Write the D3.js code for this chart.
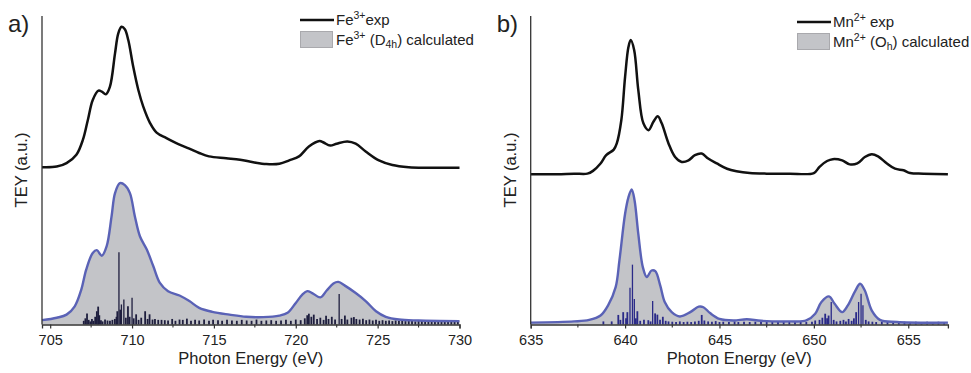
<!DOCTYPE html>
<html>
<head>
<meta charset="utf-8">
<script src="https://cdn.jsdelivr.net/npm/d3@7"></script>
<style>
  body { margin: 0; background: #fff; }
  svg { font-family: "Liberation Sans", Arial, sans-serif; }
</style>
</head>
<body>
<div id="chart"></div>
<script>
// ---- panel a : Fe L-edge ----
const feExpE = [704.5,705.4,706.0,706.6,707.0,707.3,707.6,707.95,708.15,708.4,708.65,708.96,709.16,709.36,709.56,709.77,710.07,710.38,710.68,711.1,711.5,712.1,712.7,713.5,714.1,714.7,715.75,716.6,717.4,718.2,719.0,719.6,720.2,720.8,721.45,721.7,722.1,722.5,723.15,723.66,724.27,725.08,725.9,726.9,727.9,730.0];
const feExpI = [51.0,51.2,52.3,55.0,59.9,66.3,72.8,75.8,75.5,74.6,77.1,87.9,94.4,96.5,95.7,92.2,83.6,76.1,70.7,65.3,62.2,60.4,58.8,57.0,55.6,54.5,53.9,53.4,52.6,52.0,52.1,53.2,54.5,57.7,59.5,59.0,58.0,58.6,59.3,58.6,56.1,53.2,51.7,51.0,50.8,50.8];
const feCalcE = [704.5,705.4,706.0,706.5,706.9,707.2,707.6,707.85,708.15,708.45,708.75,708.96,709.26,709.56,709.87,710.17,710.48,710.9,711.3,711.7,712.2,712.9,713.5,714.1,714.9,715.95,716.97,718.0,719.0,719.5,720.0,720.4,720.7,721.0,721.5,721.9,722.3,722.6,723.0,723.66,724.27,724.9,725.5,726.3,727.5,730.0];
const feCalcI = [1.4,2.2,3.2,5.9,11.3,17.8,23.2,24.1,22.3,25.4,35.1,42.6,45.8,45.2,42.6,35.1,28.6,24.3,18.9,13.5,10.8,9.4,7.6,5.4,4.1,3.2,2.5,2.4,2.9,3.8,7.0,9.7,10.8,10.2,8.8,11.1,13.3,13.8,12.6,10.2,7.6,4.3,2.5,1.6,1.3,1.1];
const feStickE = [707.05,707.15,707.25,707.35,707.45,707.55,707.65,707.75,707.85,707.93,708.0,708.1,708.2,708.35,708.5,708.65,708.8,708.95,709.05,709.1,709.2,709.28,709.35,709.5,709.62,709.75,709.85,710.0,710.1,710.25,710.4,710.56,710.8,710.95,711.07,711.25,711.4,711.6,711.8,712.0,712.2,712.45,712.65,712.9,713.1,713.35,713.6,713.85,714.1,714.4,714.7,714.95,715.25,715.5,715.8,716.1,716.4,716.7,717.0,717.3,717.6,717.9,718.2,718.5,718.8,719.1,719.4,719.7,720.0,720.3,720.55,720.7,720.8,720.95,721.1,721.3,721.5,721.7,721.85,722.0,722.2,722.4,722.65,722.8,723.0,723.15,723.4,723.55,723.7,723.9,724.1,724.3,724.5,724.7,724.9,725.1,725.3,725.5,725.7,725.9,726.1,726.3,726.5,726.7,726.9,727.1,727.3,727.5,727.7,727.9,728.1,728.3,728.5,728.7,728.9,729.1,729.3,729.5,729.7,729.9];
const feStickI = [1.2,2.0,3.6,1.5,1.0,1.8,1.2,2.5,4.3,5.8,3.0,1.4,1.0,1.6,1.3,1.2,1.5,1.8,2.5,4.3,23.4,4.8,6.5,8.1,2.2,5.9,2.5,8.7,2.0,3.3,1.5,2.2,4.3,1.8,3.3,1.6,1.8,1.5,1.5,1.4,1.3,1.8,1.2,1.6,1.5,1.9,1.2,1.5,1.3,1.6,1.2,1.5,1.4,1.2,1.5,1.3,1.2,1.5,1.3,1.2,1.6,1.2,1.3,1.4,1.2,1.3,1.5,1.2,1.6,1.4,2.0,3.0,3.5,2.5,3.2,1.8,2.2,1.5,2.8,1.8,2.5,1.6,9.9,1.8,2.9,1.6,2.2,2.4,1.8,1.6,1.9,1.4,1.6,1.3,1.5,1.2,1.4,1.2,1.3,1.1,1.3,1.2,1.4,1.1,1.2,1.3,1.0,1.4,1.2,1.3,1.1,1.2,1.3,1.1,1.2,1.3,1.1,1.2,1.0,1.1];
const feTicks = [705,710,715,720,725,730];
const feMinor = [707.5,712.5,717.5,722.5,727.5];

// ---- panel b : Mn L-edge ----
const mnExpE = [635.0,636.4,637.3,638.0,638.3,638.7,639.0,639.4,639.56,639.8,640.0,640.18,640.3,640.48,640.7,640.97,641.24,641.5,641.73,641.94,642.3,642.65,643.0,643.36,643.7,644.06,644.4,644.86,645.4,645.9,646.6,647.5,648.7,650.0,650.3,650.7,651.0,651.5,651.9,652.3,652.7,653.07,653.4,653.87,654.3,654.75,655.1,655.8,657.1];
const mnExpI = [48.7,48.7,48.9,48.9,49.8,52.2,54.9,56.7,58.7,66.2,80.3,90.0,92.2,89.0,76.0,65.2,63.0,65.7,67.5,65.2,58.7,54.3,52.7,53.2,54.9,55.4,53.8,52.2,50.5,49.7,49.1,48.9,48.9,49.1,51.1,53.0,53.6,53.2,51.9,52.2,54.3,55.2,54.5,52.2,50.5,50.0,49.1,48.9,48.7];
const mnCalcE = [635.0,637.3,638.1,638.7,639.1,639.5,639.7,640.0,640.18,640.35,640.5,640.7,640.94,641.15,641.4,641.6,641.86,642.1,642.47,642.9,643.45,643.9,644.15,644.5,645.0,645.74,646.45,647.2,648.7,649.6,650.07,650.4,650.8,651.1,651.5,651.8,652.2,652.45,652.7,653.07,653.5,654.4,657.1];
const mnCalcI = [0.6,1.0,1.5,2.9,6.2,12.1,20.8,35.9,41.3,43.8,40.3,29.4,18.6,15.4,17.5,17.3,12.7,7.3,4.0,2.6,4.0,5.8,5.6,3.7,1.8,1.3,1.7,1.2,1.0,1.3,3.5,7.3,9.1,6.7,4.0,6.2,11.0,13.2,11.0,4.5,1.5,0.8,0.6];
const mnStickE = [638.85,639.29,639.64,639.75,639.9,640.05,640.12,640.26,640.39,640.49,640.57,640.65,640.8,641.0,641.23,641.35,641.46,641.59,641.71,641.85,642.0,642.15,642.3,642.5,642.7,642.9,643.1,643.3,643.5,643.7,643.9,644.06,644.2,644.4,644.6,644.8,645.0,645.2,645.5,645.8,646.0,646.3,646.6,646.9,647.2,647.5,647.8,648.1,648.4,648.7,649.0,649.3,649.6,649.9,650.07,650.3,650.45,650.6,650.7,650.78,650.92,651.05,651.2,651.4,651.57,651.7,651.84,652.0,652.12,652.24,652.37,652.5,652.6,652.75,652.9,653.1,653.3,653.6,653.9,654.2,654.5,654.8,655.1,655.4,655.7,656.0,656.3,656.6,656.9];
const mnStickI = [1.0,1.0,3.1,1.5,4.0,2.0,4.0,11.9,19.4,8.3,2.0,4.3,1.2,1.5,1.4,1.0,7.6,3.6,3.2,1.5,2.5,1.2,1.0,0.9,0.8,1.0,0.8,0.9,0.8,1.0,1.2,3.1,1.3,1.0,0.9,1.1,0.8,0.9,0.8,1.0,0.8,0.9,0.8,0.9,1.0,0.8,0.9,0.8,0.9,1.0,0.8,0.9,0.8,0.9,1.3,1.5,2.2,3.5,2.0,2.9,7.3,1.5,1.0,1.2,1.5,1.0,1.8,1.2,2.0,4.0,7.3,10.0,6.2,1.5,1.0,0.9,0.8,0.9,0.8,1.0,0.8,0.9,0.8,0.9,0.8,0.9,0.8,0.9,0.8];
const mnTicks = [635,640,645,650,655];
const mnMinor = [637.5,642.5,647.5,652.5];

const W = 971, H = 373;
const svg = d3.select("#chart").append("svg").attr("width", W).attr("height", H);

function zip(e, i) { return e.map((d, k) => [d, i[k]]); }

function panel(opt) {
  let x = d3.scaleLinear().domain(opt.domain).range([opt.x0, opt.x1]);
  let y = d3.scaleLinear().domain([0, 100]).range([324.5, 16]);
  let g = svg.append("g");

  // calculated envelope
  let calc = zip(opt.calcE, opt.calcI);
  g.append("path")
    .datum(calc)
    .attr("d", d3.area().x(d => x(d[0])).y0(y(0)).y1(d => y(d[1])).curve(d3.curveCatmullRom))
    .attr("fill", "#c3c4c8");

  // sticks
  g.selectAll(".stick")
    .data(zip(opt.stickE, opt.stickI))
    .enter().append("line")
    .attr("x1", d => x(d[0])).attr("x2", d => x(d[0]))
    .attr("y1", y(0)).attr("y2", d => y(d[1]))
    .attr("stroke", opt.stickColor)
    .attr("stroke-width", d => d[1] > 6 ? 1.3 : 1.8);

  g.append("path")
    .datum(calc)
    .attr("d", d3.line().x(d => x(d[0])).y(d => y(d[1])).curve(d3.curveCatmullRom))
    .attr("fill", "none").attr("stroke", "#5a62b6").attr("stroke-width", 2.4);

  // experimental
  g.append("path")
    .datum(zip(opt.expE, opt.expI))
    .attr("d", d3.line().x(d => x(d[0])).y(d => y(d[1])).curve(d3.curveCatmullRom))
    .attr("fill", "none").attr("stroke", "#111").attr("stroke-width", 2.5);

  // axes
  g.append("line").attr("x1", opt.x0).attr("x2", opt.x0).attr("y1", 16).attr("y2", 324.5)
    .attr("stroke", "#333").attr("stroke-width", 1.3);
  let ax = g.append("g").attr("transform", "translate(0,324.5)")
    .call(d3.axisBottom(x).tickValues(opt.ticks).tickSize(4).tickFormat(d3.format("d")));
  ax.select(".domain").attr("stroke", "#333").attr("stroke-width", 1.3);
  ax.selectAll(".tick line").attr("stroke", "#333").attr("stroke-width", 1.2);
  ax.selectAll("text").attr("font-size", "14.5px").attr("fill", "#222")
    .attr("font-family", "'Liberation Sans', Arial, sans-serif").attr("dy", "0.9em");
  g.selectAll(".minor").data(opt.minor).enter().append("line")
    .attr("x1", d => x(d)).attr("x2", d => x(d))
    .attr("y1", 324.5).attr("y2", 327.5)
    .attr("stroke", "#333").attr("stroke-width", 1.1);

  g.append("text").attr("x", (opt.x0 + opt.x1) / 2).attr("y", 364)
    .attr("text-anchor", "middle").attr("font-size", "16.5px").attr("fill", "#222")
    .text("Photon Energy (eV)");
  g.append("text").attr("transform", "translate(" + (opt.x0 - 15) + ",170) rotate(-90)")
    .attr("text-anchor", "middle").attr("font-size", "16.5px").attr("fill", "#222")
    .text("TEY (a.u.)");
  g.append("text").attr("x", opt.x0 - 34).attr("y", 32)
    .attr("font-size", "24px").attr("fill", "#222").text(opt.letter);

  // legend
  let lg = g.append("g").attr("transform", "translate(" + opt.legX + "," + opt.legY + ")");
  lg.append("line").attr("x1", 0).attr("x2", 34).attr("y1", 0).attr("y2", 0)
    .attr("stroke", "#111").attr("stroke-width", 2.5);
  lg.append("rect").attr("x", 0.5).attr("y", 11.5).attr("width", 32).attr("height", 16)
    .attr("fill", "#c3c4c8").attr("stroke", "#a9a9ad").attr("stroke-width", 1);
  let t1 = lg.append("text").attr("x", 36).attr("y", 5).attr("font-size", "15px").attr("fill", "#222");
  opt.leg1.forEach(p => {
    let s = t1.append("tspan").text(p[0]);
    if (p[1]) s.attr("font-size", "10.5px").attr("baseline-shift", p[1] === "sup" ? "55%" : "-25%");
  });
  let t2 = lg.append("text").attr("x", 36).attr("y", 25).attr("font-size", "15px").attr("fill", "#222");
  opt.leg2.forEach(p => {
    let s = t2.append("tspan").text(p[0]);
    if (p[1]) s.attr("font-size", "10.5px").attr("baseline-shift", p[1] === "sup" ? "55%" : "-25%");
  });
}

panel({
  domain: [704.5, 730], x0: 42, x1: 459.5, letter: "a)",
  expE: feExpE, expI: feExpI, calcE: feCalcE, calcI: feCalcI,
  stickE: feStickE, stickI: feStickI, stickColor: "#1e1e3e",
  ticks: feTicks, minor: feMinor, legX: 300, legY: 20,
  leg1: [["Fe"], ["3+", "sup"], ["exp"]],
  leg2: [["Fe"], ["3+", "sup"], [" (D"], ["4h", "sub"], [") calculated"]]
});
panel({
  domain: [635, 657.1], x0: 530.7, x1: 947.9, letter: "b)",
  expE: mnExpE, expI: mnExpI, calcE: mnCalcE, calcI: mnCalcI,
  stickE: mnStickE, stickI: mnStickI, stickColor: "#2a2a88",
  ticks: mnTicks, minor: mnMinor, legX: 797, legY: 22,
  leg1: [["Mn"], ["2+", "sup"], [" exp"]],
  leg2: [["Mn"], ["2+", "sup"], [" (O"], ["h", "sub"], [") calculated"]]
});
</script>
</body>
</html>
